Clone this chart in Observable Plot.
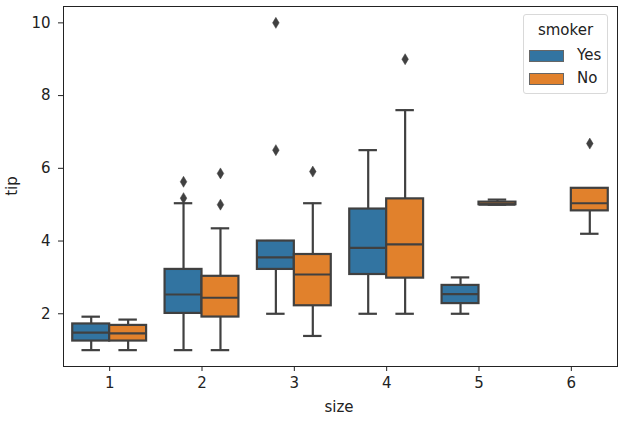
<!DOCTYPE html>
<html>
<head>
<meta charset="utf-8">
<script src="https://cdn.jsdelivr.net/npm/d3@7"></script>
<script src="https://cdn.jsdelivr.net/npm/@observablehq/plot@0.6"></script>
<style>
  html, body { margin: 0; padding: 0; background: #fff; }
  #wrap { position: relative; width: 621px; height: 422px; font-family: "DejaVu Sans", sans-serif; color: #222; }
  #legend { position: absolute; left: 523px; top: 14px; width: 83px; height: 78px;
    border: 1px solid #d9d9d9; border-radius: 3px; background: rgba(255,255,255,0.85); font-size: 15px; line-height: 1; }
  #legend .t { position: absolute; left: 0; width: 100%; top: 8px; text-align: center; }
  #legend .sw { position: absolute; left: 5px; width: 33px; height: 10px; border: 1px solid #666; }
  #legend .lb { position: absolute; left: 53px; }
  .axlab { position: absolute; font-size: 15px; line-height: 1; white-space: nowrap; }
</style>
</head>
<body>
<div id="wrap"></div>
<script>
// categories
const sizes = ["1", "2", "3", "4", "5", "6"];
const smokerLevels = ["Yes", "No"];
const colors = ["#3274a1", "#e1812c"];
const yTicks = [2, 4, 6, 8, 10];
const xLabel = "size";
const yLabel = "tip";

// smoker = Yes (box statistics per size)
const yesLo  = [1.00, 1.00, 2.00, 2.00, 2.00, null];
const yesQ1  = [1.25, 2.01, 3.22, 3.08, 2.28, null];
const yesMed = [1.48, 2.53, 3.55, 3.81, 2.54, null];
const yesQ3  = [1.72, 3.22, 4.00, 4.88, 2.78, null];
const yesHi  = [1.92, 5.04, 4.00, 6.50, 3.00, null];
const yesOut = [[], [5.18, 5.63], [6.50, 10.00], [], [], []];

// smoker = No
const noLo  = [1.00, 1.00, 1.39, 2.00, 5.00, 4.20];
const noQ1  = [1.25, 1.91, 2.22, 2.98, 5.00, 4.83];
const noMed = [1.46, 2.44, 3.08, 3.91, 5.00, 5.04];
const noQ3  = [1.68, 3.03, 3.63, 5.16, 5.07, 5.45];
const noHi  = [1.84, 4.35, 5.04, 7.60, 5.14, 5.45];
const noOut = [[], [5.00, 5.86], [5.91], [9.00], [], [6.68]];

const series = [
  {smoker: "Yes", lo: yesLo, q1: yesQ1, med: yesMed, q3: yesQ3, hi: yesHi, out: yesOut},
  {smoker: "No",  lo: noLo,  q1: noQ1,  med: noMed,  q3: noQ3,  hi: noHi,  out: noOut}
];

const boxes = [];
const fliers = [];
for (const s of series) {
  sizes.forEach((size, i) => {
    if (s.med[i] == null) return;
    boxes.push({size, i, smoker: s.smoker, lo: s.lo[i], q1: s.q1[i], med: s.med[i], q3: s.q3[i], hi: s.hi[i]});
    for (const v of s.out[i]) fliers.push({size, i, smoker: s.smoker, tip: v});
  });
}
// position within the category slot (dodge by hue)
const off = d => (d.smoker === "Yes" ? -0.2 : 0.2);
const cx = d => d.i + off(d);
const gray = "#404040";

const thinDiamond = {
  draw(ctx, size) {
    const r = Math.sqrt(size / Math.PI);
    ctx.moveTo(0, -r);
    ctx.lineTo(0.6 * r, 0);
    ctx.lineTo(0, r);
    ctx.lineTo(-0.6 * r, 0);
    ctx.closePath();
  }
};

const chart = Plot.plot({
  width: 621,
  height: 422,
  marginLeft: 63,
  marginRight: 4,
  marginTop: 6,
  marginBottom: 56,
  style: {fontFamily: "DejaVu Sans, sans-serif", fontSize: "15px", color: "#222", background: "white"},
  x: {domain: [-0.5, 5.5], ticks: sizes.map((_, i) => i), tickFormat: i => sizes[i], tickSize: 5, tickPadding: 6, label: null},
  y: {domain: [0.55, 10.45], ticks: yTicks, tickSize: 5, tickPadding: 8, label: null},
  color: {domain: smokerLevels, range: colors},
  marks: [
    // whiskers
    Plot.ruleX(boxes, {x: cx, y1: "lo", y2: "q1", stroke: gray, strokeWidth: 2.2}),
    Plot.ruleX(boxes, {x: cx, y1: "q3", y2: "hi", stroke: gray, strokeWidth: 2.2}),
    // caps
    Plot.ruleY(boxes, {y: "lo", x1: d => cx(d) - 0.1, x2: d => cx(d) + 0.1, stroke: gray, strokeWidth: 2.2}),
    Plot.ruleY(boxes, {y: "hi", x1: d => cx(d) - 0.1, x2: d => cx(d) + 0.1, stroke: gray, strokeWidth: 2.2}),
    // boxes
    Plot.rect(boxes, {x1: d => cx(d) - 0.2, x2: d => cx(d) + 0.2, y1: "q1", y2: "q3", fill: "smoker", stroke: gray, strokeWidth: 2.2}),
    // medians
    Plot.ruleY(boxes, {y: "med", x1: d => cx(d) - 0.2, x2: d => cx(d) + 0.2, stroke: gray, strokeWidth: 2.2}),
    // outliers
    Plot.dot(fliers, {x: cx, y: "tip", r: 5.5, symbol: thinDiamond, fill: gray, stroke: gray, strokeWidth: 0.5}),
    Plot.frame({stroke: "#222", strokeWidth: 1})
  ]
});

const wrap = document.getElementById("wrap");
wrap.appendChild(chart);

// axis titles
const xl = document.createElement("div");
xl.className = "axlab";
xl.textContent = xLabel;
xl.style.left = "339px"; xl.style.top = "400px"; xl.style.transform = "translateX(-50%)";
wrap.appendChild(xl);
const yl = document.createElement("div");
yl.className = "axlab";
yl.textContent = yLabel;
yl.style.left = "12px"; yl.style.top = "186px"; yl.style.transform = "translate(-50%, -50%) rotate(-90deg)";
wrap.appendChild(yl);

// legend (inside the axes, upper right)
const lg = document.createElement("div");
lg.id = "legend";
let html = `<div class="t">smoker</div>`;
smokerLevels.forEach((s, k) => {
  const top = 35 + k * 23;
  html += `<div class="sw" style="top:${top}px;background:${colors[k]}"></div>`;
  html += `<div class="lb" style="top:${top - 2}px">${s}</div>`;
});
lg.innerHTML = html;
wrap.appendChild(lg);
</script>
</body>
</html>
